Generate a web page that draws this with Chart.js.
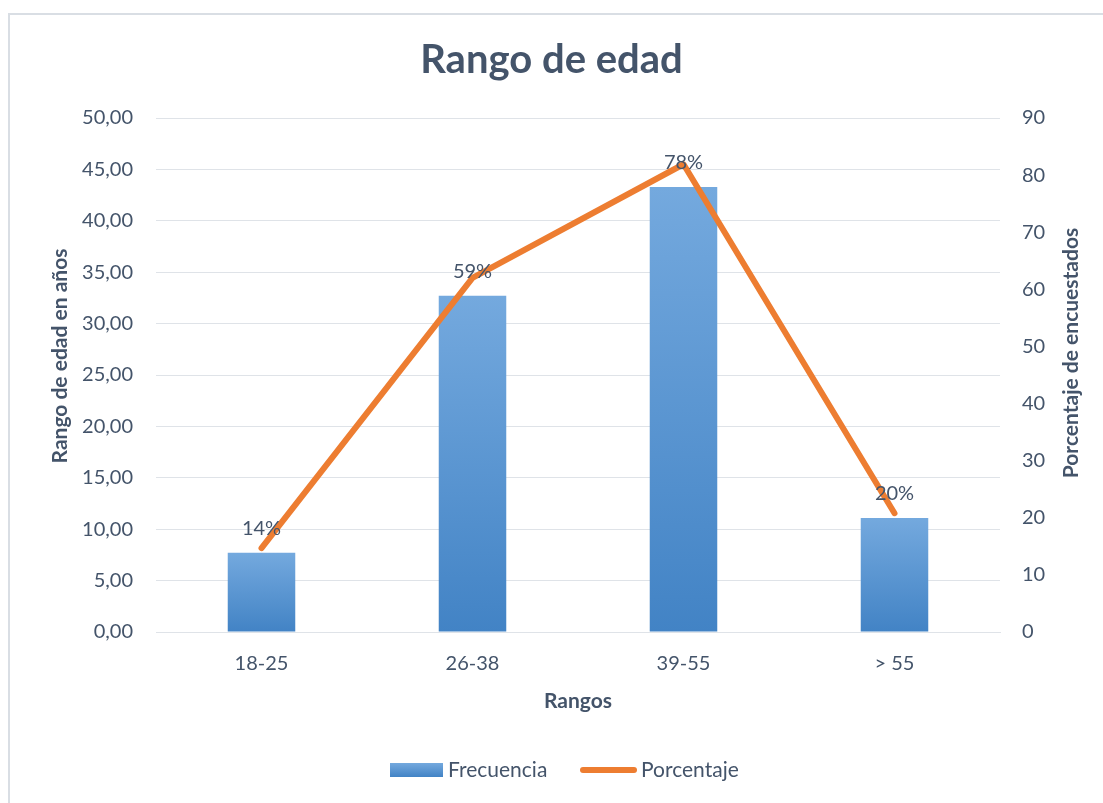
<!DOCTYPE html>
<html>
<head>
<meta charset="utf-8">
<title>Rango de edad</title>
<script src="https://cdn.jsdelivr.net/npm/chart.js@4"></script>
<style>
  body { margin: 0; background: #fff; }
  canvas { display: block; }
</style>
</head>
<body>
<canvas id="edadChart" width="1103" height="803"></canvas>
<script>
// --- Data ---
const rangos = ['18-25', '26-38', '39-55', '> 55'];
const frecuencia = [7.7, 32.7, 43.3, 11.1];
const porcentaje = [14.7, 62.0, 81.9, 20.8];
const etiquetas = ['14%', '59%', '78%', '20%'];

const tituloIzq = 'Rango de edad en años';
const tituloDer = 'Porcentaje de encuestados';

const TEXT = '#44546a';
const GRID = '#dfe3e8';
const ORANGE = '#ed7d31';
const FONT = 'Lato, "Open Sans", sans-serif';

// vertical gradient between two pixel rows, light at the top
const makeGradient = (ctx, top, bottom) => {
  const g = ctx.createLinearGradient(0, top, 0, bottom);
  g.addColorStop(0, '#74a9de');
  g.addColorStop(1, '#4283c5');
  return g;
};

const barGradient = (context) => {
  const chart = context.chart;
  if (!chart.chartArea || context.parsed == null) return '#5b9bd5';
  const y = chart.scales.y;
  return makeGradient(chart.ctx, y.getPixelForValue(context.parsed.y), y.getPixelForValue(0));
};

// white background and the thin frame of the original picture
const framePlugin = {
  id: 'frame',
  beforeDraw(chart) {
    const { ctx, width, height } = chart;
    ctx.save();
    ctx.fillStyle = '#fff';
    ctx.fillRect(0, 0, width, height);
    ctx.strokeStyle = '#d9dee4';
    ctx.lineWidth = 2;
    ctx.beginPath();
    ctx.moveTo(9, height);
    ctx.lineTo(9, 14);
    ctx.lineTo(width, 14);
    ctx.stroke();
    ctx.restore();
  }
};

// percentage labels, y axis titles (bottom to top) and the legend
const labelPlugin = {
  id: 'barLabels',
  afterDatasetsDraw(chart) {
    const meta = chart.getDatasetMeta(0);
    const { ctx } = chart;
    ctx.save();
    ctx.font = '20px ' + FONT;
    ctx.fillStyle = TEXT;
    ctx.textAlign = 'center';
    ctx.textBaseline = 'middle';
    meta.data.forEach((bar, i) => {
      ctx.fillText(etiquetas[i], bar.x, bar.y - 24);
    });
    ctx.restore();
  },
  afterDraw(chart) {
    const { ctx } = chart;
    const drawVertical = (text, x, y) => {
      ctx.save();
      ctx.translate(x, y);
      ctx.rotate(-Math.PI / 2);
      ctx.font = 'bold 21px ' + FONT;
      ctx.fillStyle = TEXT;
      ctx.textAlign = 'center';
      ctx.textBaseline = 'middle';
      ctx.fillText(text, 0, 0);
      ctx.restore();
    };
    drawVertical(tituloIzq, 60, 356);
    drawVertical(tituloDer, 1071, 353);

    // legend
    const ly = 770;
    ctx.save();
    ctx.fillStyle = makeGradient(ctx, ly - 7, ly + 7);
    ctx.fillRect(390, ly - 7, 53, 14);
    ctx.strokeStyle = ORANGE;
    ctx.lineWidth = 6;
    ctx.lineCap = 'round';
    ctx.beginPath();
    ctx.moveTo(583, ly);
    ctx.lineTo(634, ly);
    ctx.stroke();
    ctx.font = '21px ' + FONT;
    ctx.fillStyle = TEXT;
    ctx.textAlign = 'left';
    ctx.textBaseline = 'middle';
    ctx.fillText(chart.data.datasets[0].label, 448, ly);
    ctx.fillText(chart.data.datasets[1].label, 641, ly);
    ctx.restore();
  }
};

new Chart(document.getElementById('edadChart'), {
  data: {
    labels: rangos,
    datasets: [
      {
        type: 'bar',
        label: 'Frecuencia',
        data: frecuencia,
        yAxisID: 'y',
        backgroundColor: barGradient,
        barPercentage: 0.32,
        categoryPercentage: 1,
        order: 2
      },
      {
        type: 'line',
        label: 'Porcentaje',
        data: porcentaje,
        yAxisID: 'y1',
        borderColor: ORANGE,
        backgroundColor: ORANGE,
        borderWidth: 6,
        borderCapStyle: 'round',
        borderJoinStyle: 'round',
        pointRadius: 0,
        tension: 0,
        order: 1
      }
    ]
  },
  options: {
    responsive: false,
    devicePixelRatio: 1,
    animation: false,
    layout: { padding: { top: 10, bottom: 65, left: 0, right: 0 } },
    plugins: {
      title: {
        display: true,
        text: 'Rango de edad',
        color: TEXT,
        font: { family: FONT, size: 40, weight: 'bold' },
        padding: { top: 26, bottom: 34 }
      },
      legend: { display: false },
      tooltip: { enabled: false }
    },
    scales: {
      x: {
        grid: { display: false, drawTicks: false },
        border: { color: GRID },
        ticks: { color: TEXT, font: { family: FONT, size: 20 }, padding: 20 },
        title: {
          display: true,
          text: 'Rangos',
          color: TEXT,
          font: { family: FONT, size: 21, weight: 'bold' },
          padding: { top: 0, bottom: 24 }
        },
        afterFit: (scale) => { scale.height = 106; }
      },
      y: {
        position: 'left',
        min: 0,
        max: 50,
        grid: { color: GRID, drawTicks: false },
        border: { display: false },
        ticks: {
          stepSize: 5,
          color: TEXT,
          font: { family: FONT, size: 20 },
          padding: 23,
          callback: (v) => v.toFixed(2).replace('.', ',')
        },
        afterFit: (scale) => { scale.width = 156; }
      },
      y1: {
        position: 'right',
        min: 0,
        max: 90,
        grid: { display: false, drawTicks: false },
        border: { display: false },
        ticks: {
          stepSize: 10,
          color: TEXT,
          font: { family: FONT, size: 20 },
          padding: 22
        },
        afterFit: (scale) => { scale.width = 103; }
      }
    }
  },
  plugins: [framePlugin, labelPlugin]
});
</script>
</body>
</html>
